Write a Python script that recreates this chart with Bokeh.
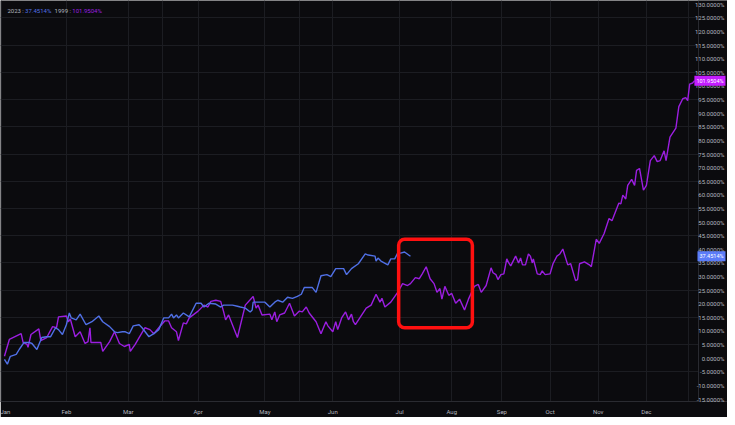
from bokeh.plotting import figure
from bokeh.models import (Range1d, FixedTicker, CustomJSTickFormatter, Label,
                          BoxAnnotation, Grid, ColumnDataSource, Span)
from bokeh.embed import file_html
from bokeh.resources import INLINE

# ---- data (bar index, percent change) ----
bar_1999 = [0, 5, 17, 19, 23, 24, 27, 35, 37, 43, 49, 53, 55, 63, 65, 67, 72, 77, 82, 85,
            87, 88, 98, 100, 107, 112, 117, 122, 127, 128, 133, 137, 143, 148, 152, 157, 163,
            167, 170, 175, 177, 182, 185, 188, 197, 203, 207, 210, 215, 220, 223, 225, 228,
            237, 245, 253, 256, 258, 262, 270, 272, 275, 277, 280, 285, 290, 295, 300, 303,
            307, 310, 317, 322, 327, 329, 334, 337, 339, 343, 347, 350, 353, 355, 357, 368,
            373, 378, 382, 384, 387, 393, 400, 405, 410, 413, 418, 422, 425, 429, 433, 437,
            440, 443, 445, 448, 452, 455, 459, 463, 468, 472, 478, 482, 485, 490, 495, 497,
            500, 502, 505, 508, 511, 513, 515, 520, 523, 525, 527, 530, 533, 535, 537, 538,
            542, 545, 547, 550, 555, 558, 562, 565, 568, 573, 576, 581, 583, 585, 590, 595,
            597, 602, 605, 610, 615, 618, 625, 627, 629, 632, 634, 638, 641, 643, 646, 650,
            653, 657, 661, 664, 667, 671, 673, 677, 683, 686, 690, 693, 695, 697, 700, 702]
pct_1999 = [0.7, 6.9, 9.0, 5.8, 5.1, 4.0, 8.7, 10.8, 6.5, 7.6, 11.6, 11.2, 15.2, 15.5, 13.4,
            14.4, 7.9, 9.7, 5.4, 6.1, 11.2, 5.8, 5.8, 2.5, 6.1, 9.7, 5.4, 4.3, 5.1, 2.5, 5.1,
            7.6, 11.2, 10.5, 9.0, 11.2, 13.7, 13.7, 11.2, 9.7, 6.5, 13.0, 12.6, 14.8, 17.3,
            19.5, 18.8, 20.9, 21.3, 20.9, 17.0, 14.1, 15.9, 7.6, 19.5, 22.7, 18.4, 19.5, 15.9,
            16.2, 14.1, 17.0, 13.4, 15.9, 16.6, 20.2, 15.5, 17.3, 17.0, 18.8, 16.6, 13.4, 9.0,
            13.4, 11.9, 9.7, 13.4, 10.5, 14.8, 17.0, 14.1, 16.2, 13.4, 12.3, 18.4, 19.5, 23.5,
            20.6, 22.0, 18.8, 20.6, 24.2, 27.4, 26.7, 27.4, 29.6, 29.2, 31.0, 33.6, 29.2, 27.4,
            24.2, 25.6, 21.7, 26.4, 23.1, 23.8, 20.2, 21.7, 17.7, 21.7, 26.4, 27.1, 24.2, 26.7,
            33.2, 31.4, 30.7, 28.9, 30.7, 31.0, 36.5, 35.0, 33.9, 37.5, 35.0, 36.8, 34.3, 34.3,
            38.3, 37.5, 35.0, 36.5, 31.0, 30.7, 32.1, 30.7, 31.0, 34.7, 37.5, 38.3, 40.1, 34.3,
            34.7, 28.5, 28.9, 34.7, 35.4, 34.3, 33.6, 43.7, 42.2, 45.8, 51.3, 50.5, 57.0, 56.7,
            59.9, 58.5, 63.5, 65.7, 63.5, 69.0, 69.7, 61.7, 63.5, 72.6, 74.4, 72.2, 72.6, 76.2,
            72.6, 81.2, 84.5, 92.4, 95.3, 95.7, 94.6, 100.7, 101.1, 101.9504]

bar_2023 = [0, 3, 6, 12, 15, 20, 25, 28, 33, 38, 43, 47, 52, 55, 59, 63, 66, 68, 73, 77, 83,
            89, 96, 100, 107, 112, 115, 120, 123, 127, 131, 137, 140, 147, 152, 157, 162, 167,
            170, 172, 175, 177, 182, 188, 195, 200, 203, 208, 215, 220, 223, 232, 237, 240,
            245, 250, 252, 253, 260, 265, 270, 275, 278, 283, 288, 293, 298, 302, 305, 313,
            317, 322, 328, 332, 337, 345, 348, 353, 360, 367, 370, 377, 378, 380, 383, 390,
            393, 397, 400, 403, 407, 413]
pct_2023 = [-0.4, -2.2, 0.7, 1.4, 3.2, 5.8, 5.8, 5.4, 3.2, 7.6, 7.9, 7.9, 11.2, 10.5, 8.7,
            12.3, 16.6, 14.8, 14.1, 16.2, 12.3, 13.4, 15.5, 13.4, 11.6, 9.7, 9.4, 9.7, 9.7,
            9.0, 11.9, 12.3, 11.2, 7.9, 9.0, 10.5, 14.8, 14.8, 16.2, 14.8, 15.9, 14.8, 16.6,
            15.2, 20.2, 20.2, 18.8, 20.2, 19.9, 18.8, 19.5, 19.5, 19.1, 18.8, 18.4, 17.0, 17.7,
            20.6, 20.6, 20.6, 18.8, 20.6, 21.3, 20.6, 22.4, 22.0, 22.7, 23.5, 26.0, 26.0, 24.2,
            30.3, 30.7, 30.0, 32.9, 32.9, 30.7, 32.9, 34.7, 38.3, 37.9, 37.5, 35.7, 36.8, 35.7,
            34.3, 36.5, 36.5, 38.6, 38.6, 39.0, 37.4514]

month_names = ["Jan", "Feb", "Mar", "Apr", "May", "Jun", "Jul", "Aug", "Sep", "Oct", "Nov", "Dec"]
month_bars = [-3, 63, 126, 197, 265, 334, 402, 455, 506, 555, 604, 653]
extra_grid_bars = [161, 300, 696]
y_ticks = list(range(-15, 131, 5))
y_grid = list(range(-5, 131, 10))

# highlighted window (bar range, percent range)
box_bars = (401, 476)
box_pct = (11.2, 43.7)

BG = "#0b0b0e"
GRID = "#1c1d22"
TXT = "#b2b5be"
BLUE = "#5070e6"
PURPLE = "#9b1ee0"
SCALE_EDGE = 706   # bar where the price-scale strip begins
X_END = 735.5

p = figure(width=727, height=417, output_backend="svg", toolbar_location=None,
           x_range=Range1d(-4, X_END), y_range=Range1d(-15.9, 131.4),
           y_axis_location="left")
p.background_fill_color = BG
p.border_fill_color = BG
p.outline_line_color = None
p.min_border_left = 0
p.min_border_top = 0
p.min_border_right = 0
p.min_border_bottom = 0

# axes
p.yaxis.ticker = FixedTicker(ticks=y_ticks)
p.yaxis.formatter = CustomJSTickFormatter(code="return tick.toFixed(4) + '%';")
p.xaxis.ticker = FixedTicker(ticks=month_bars)
p.xaxis.major_label_overrides = {m: n for m, n in zip(month_bars, month_names)}
for ax in (p.xaxis, p.yaxis):
    ax.axis_label = None
    ax.major_label_text_color = TXT
    ax.major_label_text_font = "Roboto"
    ax.major_label_text_font_size = "6px"
    ax.major_tick_line_color = None
    ax.minor_tick_line_color = None
    ax.major_tick_out = 0
    ax.major_tick_in = 0
    ax.minor_tick_out = 0
    ax.minor_tick_in = 0
    ax.axis_line_color = "#2a2b31"
    ax.major_label_standoff = 6
# price-scale labels are pushed across to the strip at the right edge
p.yaxis.major_label_standoff = -724
p.yaxis.axis_line_color = None

# grids
p.xgrid.grid_line_color = GRID
p.ygrid.ticker = FixedTicker(ticks=y_grid)
p.ygrid.grid_line_color = GRID
p.add_layout(Grid(dimension=0, ticker=FixedTicker(ticks=extra_grid_bars),
                  grid_line_color=GRID))
# price-scale strip background and separator
p.add_layout(BoxAnnotation(left=SCALE_EDGE, fill_color=BG, fill_alpha=1.0,
                           line_color=None, level="underlay"))
p.add_layout(Span(location=SCALE_EDGE, dimension="height", line_color="#2a2b31",
                  line_width=1, level="underlay"))

# series
src99 = ColumnDataSource(dict(x=bar_1999, y=pct_1999))
src23 = ColumnDataSource(dict(x=bar_2023, y=pct_2023))
p.line("x", "y", source=src99, line_color=PURPLE, line_width=1.4)
p.line("x", "y", source=src23, line_color=BLUE, line_width=1.4)

# highlight box
p.add_layout(BoxAnnotation(left=box_bars[0], right=box_bars[1], bottom=box_pct[0],
                           top=box_pct[1], fill_alpha=0, line_color="#ff1010",
                           line_alpha=1.0, line_width=3.5, border_radius=6))

# last-value labels on the price scale (right-aligned at the strip's edge)
for val, col in [(pct_1999[-1], "#c41cff"), (pct_2023[-1], "#5b7cf8")]:
    p.add_layout(Label(x=X_END, y=val, x_offset=-2,
                       text=f"{val:.4f}%", text_align="right",
                       text_font="Roboto", text_font_size="5.5px", text_color="white",
                       text_baseline="middle", background_fill_color=col,
                       padding=2))

# legend at top left
leg_y = 127.6
for xx, txt, col in [(3, "2023 :", TXT), (21, f"{pct_2023[-1]:.4f}%", BLUE),
                     (51, "1999 :", TXT), (69, f"{pct_1999[-1]:.4f}%", PURPLE)]:
    p.add_layout(Label(x=xx, y=leg_y, text=txt, text_font="Roboto",
                       text_font_size="6px", text_color=col, text_baseline="middle"))

open("out.html", "w").write(file_html(p, INLINE))
